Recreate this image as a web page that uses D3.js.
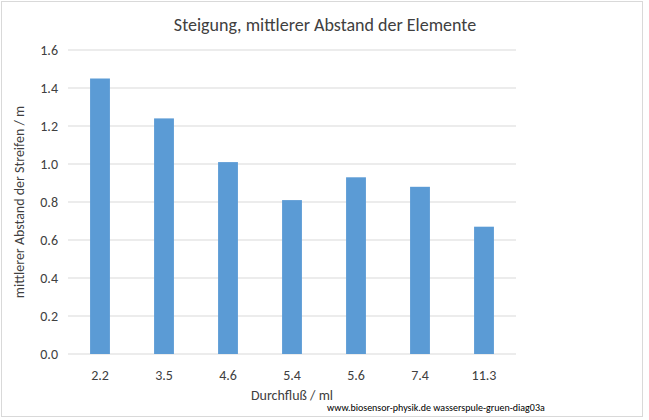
<!DOCTYPE html><html><head><meta charset="utf-8"><script src="https://d3js.org/d3.v7.min.js"></script>
<style>body{margin:0;background:#fff}text{font-family:Calibri,Carlito,"Open Sans",sans-serif}</style></head><body><svg id="c" width="649" height="420"></svg><script>
const categories=["2.2","3.5","4.6","5.4","5.6","7.4","11.3"];
const values=[1.45,1.24,1.01,0.81,0.93,0.88,0.67];
const yTicks=[0,0.2,0.4,0.6,0.8,1.0,1.2,1.4,1.6];
const svg=d3.select("#c");
svg.append("rect").attr("x",1.5).attr("y",1.5).attr("width",641).attr("height",415).attr("fill","#fff").attr("stroke","#d9d9d9");
const x=d3.scaleBand().domain(categories).range([68,516]).paddingInner(0.69).paddingOuter(0.345);
const y=d3.scaleLinear().domain([0,1.6]).range([354,50]);
svg.selectAll(".g").data(yTicks).join("line").attr("x1",68).attr("x2",516).attr("y1",d=>y(d)).attr("y2",d=>y(d)).attr("stroke","#d9d9d9");
svg.selectAll(".yl").data(yTicks).join("text").attr("x",58).attr("y",d=>y(d)+5).attr("text-anchor","end").attr("font-size",14).attr("fill","#404040").text(d=>d.toFixed(1));
svg.selectAll(".b").data(values).join("rect").attr("x",(d,i)=>x(categories[i])).attr("width",x.bandwidth()).attr("y",d=>y(d)).attr("height",d=>y(0)-y(d)).attr("fill","#5b9bd5");
svg.selectAll(".xl").data(categories).join("text").attr("x",d=>x(d)+x.bandwidth()/2).attr("y",380).attr("text-anchor","middle").attr("font-size",14).attr("fill","#404040").text(d=>d);
svg.append("text").attr("x",325).attr("y",31).attr("text-anchor","middle").attr("font-size",18).attr("fill","#404040").text("Steigung, mittlerer Abstand der Elemente");
svg.append("text").attr("x",292).attr("y",400).attr("text-anchor","middle").attr("font-size",14).attr("fill","#404040").text("Durchfluß / ml");
svg.append("text").attr("transform","translate(24,202) rotate(-90)").attr("text-anchor","middle").attr("font-size",14).attr("fill","#404040").text("mittlerer Abstand der  Streifen / m");
svg.append("text").attr("x",327).attr("y",411).attr("font-size",10).attr("fill","#000").text("www.biosensor-physik.de  wasserspule-gruen-diag03a");
</script></body></html>
